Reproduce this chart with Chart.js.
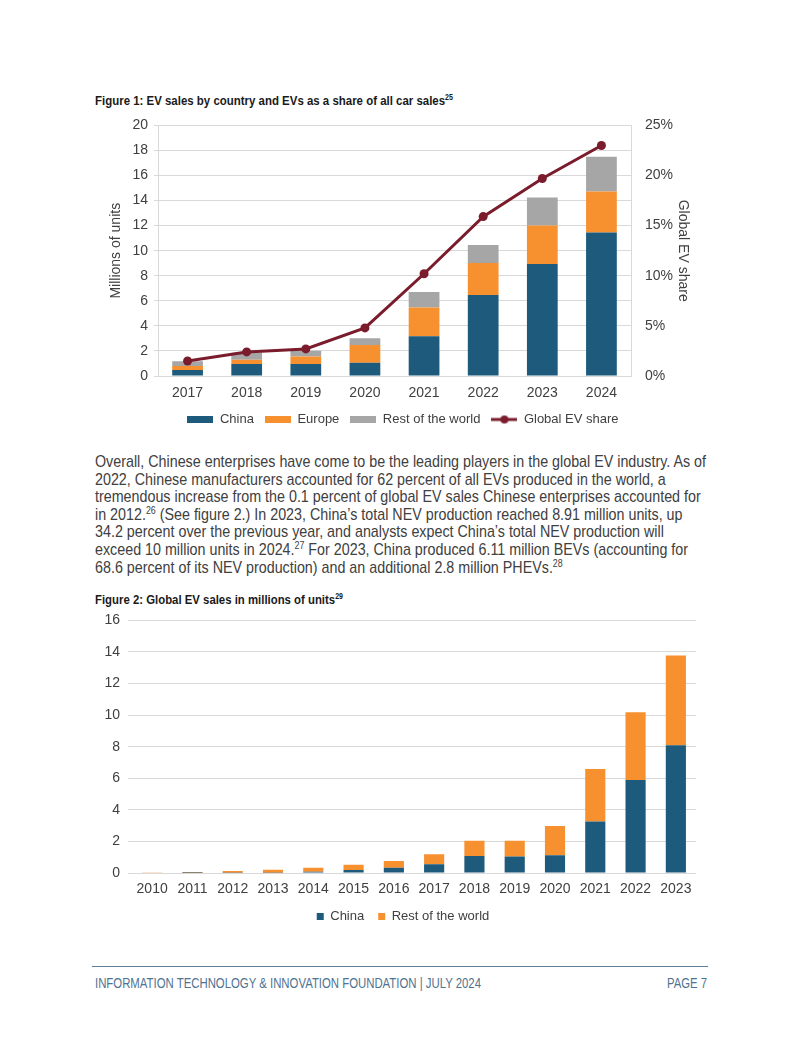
<!DOCTYPE html>
<html>
<head>
<meta charset="utf-8">
<script src="https://cdn.jsdelivr.net/npm/chart.js@4"></script>
<style>
  html, body { margin: 0; padding: 0; background: #fff; }
  body { width: 802px; height: 1037px; position: relative; overflow: hidden;
         font-family: 'Liberation Sans Narrow', 'Liberation Sans', Arial, sans-serif; color: #3a3a3a; }
  .fit { position: absolute; white-space: nowrap; transform-origin: 0 0; }
  .fit > div, .fit > span { display: block; }
  .ttl { font-weight: bold; font-size: 13.5px; color: #1a1a1a; }
  sup { font-size: 0.62em; vertical-align: 0; position: relative; top: -0.55em; line-height: 0; }
  #para { left: 95px; top: 453px; font-size: 17px; line-height: 17.6px; color: #404040; }
  #para .ln { display: inline-block; }
  #rule { position: absolute; left: 92px; top: 966px; width: 616px; height: 1px; background: #5f7f99; }
  #foot { left: 95px; top: 975px; font-size: 14px; color: #4f7391; }
  #page { left: 667px; top: 975px; font-size: 14px; color: #4f7391; }
  canvas { position: absolute; }
</style>
</head>
<body>
<div class="fit ttl" id="t1" style="left:95px; top:93px;"><span>Figure 1: EV sales by country and EVs as a share of all car sales<sup>25</sup></span></div>
<canvas id="c1" width="620" height="333" style="left:90px; top:103px;"></canvas>

<div class="fit" id="para">
  <div><span class="ln" id="l1">Overall, Chinese enterprises have come to be the leading players in the global EV industry. As of</span></div>
  <div><span class="ln">2022, Chinese manufacturers accounted for 62 percent of all EVs produced in the world, a</span></div>
  <div><span class="ln">tremendous increase from the 0.1 percent of global EV sales Chinese enterprises accounted for</span></div>
  <div><span class="ln">in 2012.<sup>26</sup> (See figure 2.) In 2023, China’s total NEV production reached 8.91 million units, up</span></div>
  <div><span class="ln">34.2 percent over the previous year, and analysts expect China’s total NEV production will</span></div>
  <div><span class="ln">exceed 10 million units in 2024.<sup>27</sup> For 2023, China produced 6.11 million BEVs (accounting for</span></div>
  <div><span class="ln">68.6 percent of its NEV production) and an additional 2.8 million PHEVs.<sup>28</sup></span></div>
</div>

<div class="fit ttl" id="t2" style="left:95px; top:592px;"><span>Figure 2: Global EV sales in millions of units<sup>29</sup></span></div>
<canvas id="c2" width="620" height="329" style="left:90px; top:604px;"></canvas>

<div id="rule"></div>
<div class="fit" id="foot"><span>INFORMATION TECHNOLOGY &amp; INNOVATION FOUNDATION | JULY 2024</span></div>
<div class="fit" id="page"><span>PAGE 7</span></div>

<script>
// Figure 1 data (millions of units, share in percent)
const years1 = ['2017', '2018', '2019', '2020', '2021', '2022', '2023', '2024'];
const china1 = [0.48, 0.95, 0.95, 1.06, 3.18, 6.47, 8.94, 11.46];
const europe1 = [0.32, 0.35, 0.6, 1.41, 2.28, 2.55, 3.08, 3.26];
const rest1 = [0.37, 0.55, 0.47, 0.55, 1.25, 1.43, 2.22, 2.78];
const share1 = [1.5, 2.4, 2.7, 4.8, 10.2, 15.9, 19.7, 23.0];

// Figure 2 data (millions of units)
const years2 = ['2010', '2011', '2012', '2013', '2014', '2015', '2016', '2017', '2018', '2019', '2020', '2021', '2022', '2023'];
const china2 = [0, 0.005, 0.01, 0.02, 0.08, 0.19, 0.34, 0.55, 1.08, 1.04, 1.12, 3.26, 5.89, 8.09];
const rest2 = [0.01, 0.035, 0.12, 0.18, 0.26, 0.34, 0.42, 0.64, 0.97, 1.01, 1.85, 3.33, 4.3, 5.68];

const BLUE = '#1d5a7c';
const ORANGE = '#f7902f';
const GREY = '#a6a6a6';
const MAROON = '#7a1c2c';
const GRID = '#d9d9d9';

Chart.defaults.font.family = "'Liberation Sans', Arial, sans-serif";
Chart.defaults.font.size = 14;
Chart.defaults.color = '#404040';
Chart.defaults.animation = false;

// legend swatches
function boxSwatch(w, h, color) {
    const c = document.createElement('canvas');
    c.width = w; c.height = h;
    const g = c.getContext('2d');
    g.fillStyle = color;
    g.fillRect(0, 0, w, h);
    return c;
}
function lineSwatch(w, h, color) {
    const c = document.createElement('canvas');
    c.width = w; c.height = h;
    const g = c.getContext('2d');
    g.strokeStyle = color;
    g.lineWidth = 3;
    g.beginPath();
    g.moveTo(0, h / 2);
    g.lineTo(w, h / 2);
    g.stroke();
    g.fillStyle = color;
    g.beginPath();
    g.arc(w / 2, h / 2, 4, 0, Math.PI * 2);
    g.fill();
    return c;
}
const swatches1 = [boxSwatch(26, 7, BLUE), boxSwatch(26, 7, ORANGE), boxSwatch(26, 7, GREY), lineSwatch(26, 10, MAROON)];

// nudge a bottom legend sideways after layout
const legendShift = {
    id: 'legendShift',
    afterLayout(chart, args, opts) {
        if (chart.legend && opts.dx) {
            chart.legend.left += opts.dx;
            chart.legend.right += opts.dx;
        }
    }
};

new Chart(document.getElementById('c1'), {
    type: 'bar',
    data: {
        labels: years1,
        datasets: [
            { label: 'China', data: china1, backgroundColor: BLUE, yAxisID: 'y', order: 1 },
            { label: 'Europe', data: europe1, backgroundColor: ORANGE, yAxisID: 'y', order: 1 },
            { label: 'Rest of the world', data: rest1, backgroundColor: GREY, yAxisID: 'y', order: 1 },
            {
                type: 'line', label: 'Global EV share', data: share1, yAxisID: 'y1', order: 0,
                borderColor: MAROON, backgroundColor: MAROON, borderWidth: 3,
                pointRadius: 4.5, pointBackgroundColor: MAROON, pointBorderWidth: 0, tension: 0
            }
        ]
    },
    options: {
        responsive: false,
        layout: { padding: { top: 7, left: 0, right: 0, bottom: 0 } },
        datasets: { bar: { barPercentage: 0.52, categoryPercentage: 1 } },
        scales: {
            x: {
                stacked: true,
                grid: { display: false, drawTicks: false },
                border: { display: false },
                ticks: { padding: 9 },
                afterFit: s => { s.height = 26; }
            },
            y: {
                stacked: true, min: 0, max: 20,
                ticks: { stepSize: 2, padding: 6 },
                grid: { color: GRID, tickLength: 4 },
                border: { display: true, color: GRID },
                title: { display: true, text: 'Millions of units', padding: { top: 18, bottom: 0 } },
                afterFit: s => { s.width = 68; }
            },
            y1: {
                position: 'right', min: 0, max: 25,
                ticks: { stepSize: 5, padding: 14, callback: v => v + '%' },
                grid: { display: false, drawTicks: false },
                border: { display: true, color: GRID },
                title: { display: true, text: 'Global EV share', padding: { top: 19, bottom: 0 } },
                afterFit: s => { s.width = 79; }
            }
        },
        plugins: {
            tooltip: { enabled: false },
            legendShift: { dx: 3 },
            legend: {
                position: 'bottom',
                labels: {
                    usePointStyle: true,
                    pointStyleWidth: 26,
                    boxHeight: 10,
                    padding: 11,
                    font: { size: 13 },
                    sort: (a, b) => a.datasetIndex - b.datasetIndex,
                    generateLabels: chart => {
                        const items = Chart.defaults.plugins.legend.labels.generateLabels(chart);
                        items.forEach(it => { it.pointStyle = swatches1[it.datasetIndex]; });
                        return items;
                    }
                }
            }
        }
    },
    plugins: [legendShift]
});

new Chart(document.getElementById('c2'), {
    type: 'bar',
    data: {
        labels: years2,
        datasets: [
            { label: 'China', data: china2, backgroundColor: BLUE },
            { label: 'Rest of the world', data: rest2, backgroundColor: ORANGE }
        ]
    },
    options: {
        responsive: false,
        layout: { padding: { top: 8, left: 0, right: 14, bottom: 0 } },
        datasets: { bar: { barPercentage: 0.5, categoryPercentage: 1 } },
        scales: {
            x: {
                stacked: true,
                grid: { display: false, drawTicks: false },
                border: { display: false },
                ticks: { padding: 8, maxRotation: 0, autoSkip: false },
                afterFit: s => { s.height = 23; }
            },
            y: {
                stacked: true, min: 0, max: 16,
                ticks: { stepSize: 2, padding: 8 },
                grid: { color: GRID, tickLength: 4 },
                border: { display: false },
                afterFit: s => { s.width = 42; }
            }
        },
        plugins: {
            tooltip: { enabled: false },
            legendShift: { dx: 10 },
            legend: {
                position: 'bottom',
                labels: { boxWidth: 7, boxHeight: 7, padding: 14, font: { size: 13 } }
            }
        }
    },
    plugins: [legendShift]
});

// squeeze text blocks horizontally to the widths used in the page
function fitWidth(id, target, measureEl) {
    const el = document.getElementById(id);
    const m = measureEl || el.firstElementChild;
    const w = m.getBoundingClientRect().width;
    if (w > 0) el.style.transform = 'scaleX(' + (target / w) + ')';
}
fitWidth('t1', 358);
fitWidth('t2', 248);
fitWidth('para', 611, document.getElementById('l1'));
fitWidth('foot', 386);
fitWidth('page', 40);
</script>
</body>
</html>
